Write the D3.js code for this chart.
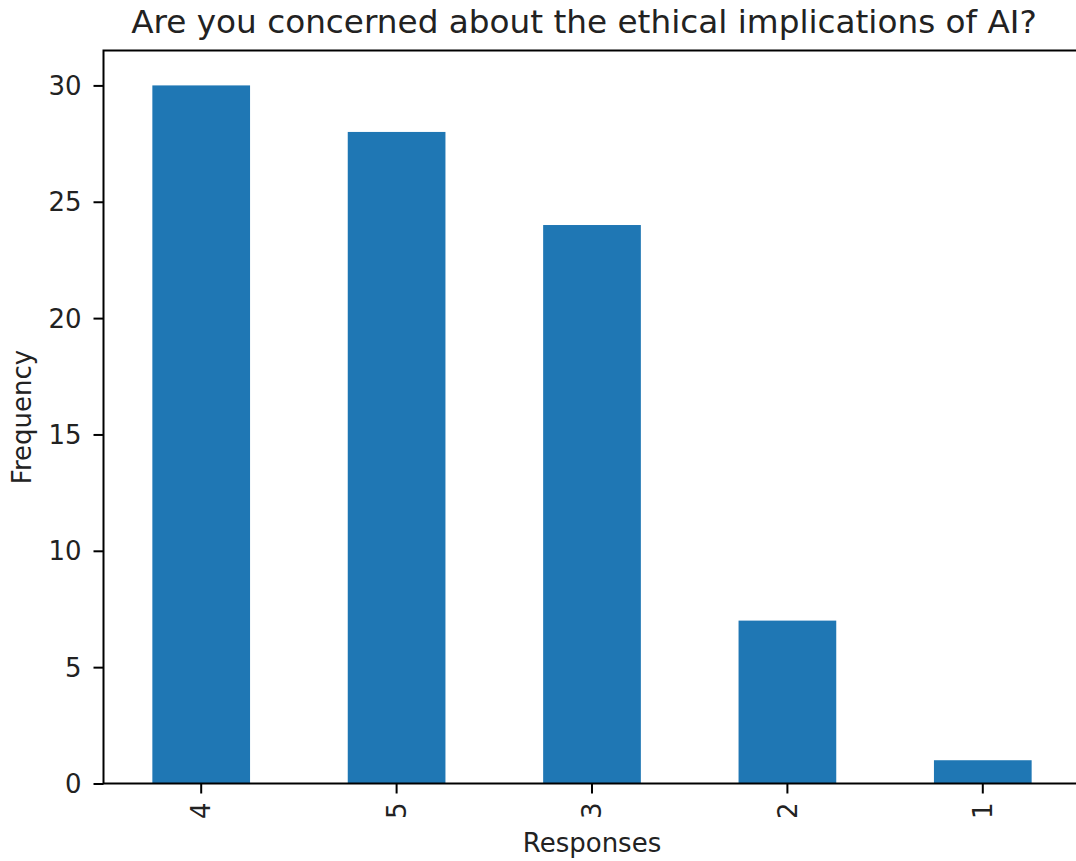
<!DOCTYPE html>
<html>
<head>
<meta charset="utf-8">
<script src="https://cdn.jsdelivr.net/npm/d3@7"></script>
<style>
  html, body { margin: 0; padding: 0; background: #fff; overflow: hidden; }
  text { font-family: "DejaVu Sans", sans-serif; fill: #222; }
</style>
</head>
<body>
<svg id="chart" width="1076" height="861"></svg>
<script>
const categories = ["4", "5", "3", "2", "1"];
const frequencies = [30, 28, 24, 7, 1];
const yTicks = [0, 5, 10, 15, 20, 25, 30];
const titleText = "Are you concerned about the ethical implications of AI?";
const xLabel = "Responses";
const yLabel = "Frequency";

const svg = d3.select("#chart");
const axL = 103.5, axR = 1080.5, axT = 50.5, axB = 783.5;
const tickLen = 10, fontPx = 26;

const x = d3.scaleBand().domain(categories).range([axL, axR])
  .paddingInner(0.5).paddingOuter(0.25);
const y = d3.scaleLinear().domain([0, 31.5]).range([axB, axT]);

// bars
svg.append("g").selectAll("rect").data(frequencies).join("rect")
  .attr("x", (d, i) => x(categories[i]))
  .attr("y", d => y(d))
  .attr("width", x.bandwidth())
  .attr("height", d => y(0) - y(d))
  .attr("fill", "#1f77b4");

// y axis
const yAxis = svg.append("g").attr("transform", `translate(${axL},0)`)
  .call(d3.axisLeft(y).tickValues(yTicks).tickSize(tickLen).tickPadding(12).tickFormat(d3.format("d")));
yAxis.select(".domain").remove();
yAxis.selectAll(".tick line").attr("stroke", "#000").attr("stroke-width", 2);
yAxis.selectAll(".tick text").style("font-size", fontPx + "px").attr("fill", "#222")
  .style("font-family", "DejaVu Sans").attr("dy", "0.35em");

// x axis
const xAxis = svg.append("g").attr("transform", `translate(0,${axB})`)
  .call(d3.axisBottom(x).tickSize(tickLen).tickPadding(0));
xAxis.select(".domain").remove();
xAxis.selectAll(".tick line").attr("stroke", "#000").attr("stroke-width", 2);
xAxis.selectAll(".tick text")
  .style("font-size", fontPx + "px").style("font-family", "DejaVu Sans").attr("fill", "#222")
  .attr("text-anchor", "end")
  .attr("dy", "0.35em")
  .attr("transform", `translate(0,${tickLen + 9}) rotate(-90)`)
  .attr("y", 0).attr("x", 0);

// spines
const sp = svg.append("g").attr("stroke", "#000").attr("stroke-width", 2).attr("fill", "none");
sp.append("rect").attr("x", axL).attr("y", axT).attr("width", axR - axL).attr("height", axB - axT);

// title
svg.append("text").attr("x", (axL + axR) / 2 - 8).attr("y", 33)
  .attr("text-anchor", "middle").style("font-size", "32.7px").text(titleText);

// x label
svg.append("text").attr("x", (axL + axR) / 2).attr("y", 852)
  .attr("text-anchor", "middle").style("font-size", fontPx + "px").text(xLabel);

// y label
svg.append("text").attr("transform", `translate(31,${(axT + axB) / 2}) rotate(-90)`)
  .attr("text-anchor", "middle").style("font-size", fontPx + "px").text(yLabel);
</script>
</body>
</html>
